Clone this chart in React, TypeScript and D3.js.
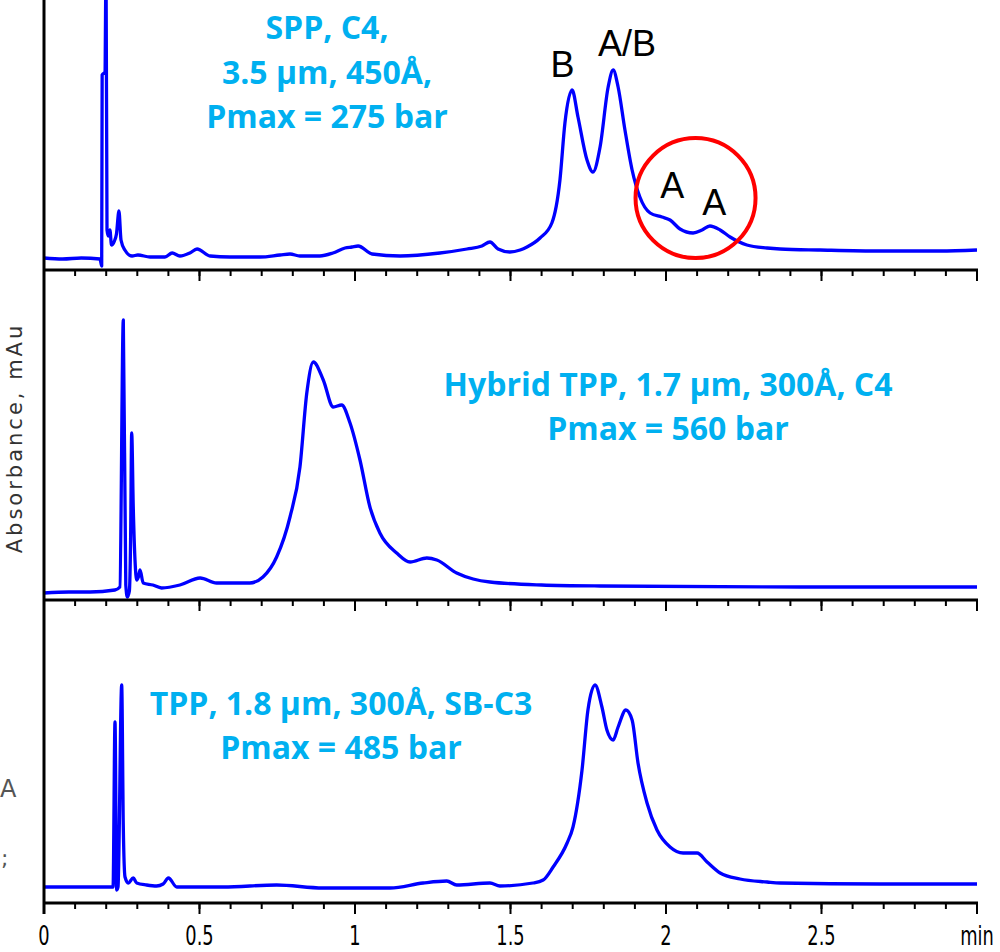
import React from 'react';
import * as d3 from 'd3';

// ---- data (time in min, absorbance in mAu) ----
const timeTicks = [0, 0.5, 1, 1.5, 2, 2.5, 3];
const timeTickLabels = ['0', '0.5', '1', '1.5', '2', '2.5', 'min'];

const sppTrace: [number, number][] = [
  [0, 11], [0.06, 10], [0.12, 11], [0.18, 10], [0.1855, 3], [0.187, 194], [0.196, 197], [0.1995, 300],
  [0.2026, 39], [0.207, 33], [0.212, 39], [0.217, 24], [0.225, 27], [0.233, 35], [0.241, 58], [0.2476, 29],
  [0.26, 19], [0.283, 13], [0.302, 14], [0.341, 12], [0.389, 12], [0.412, 16], [0.437, 13], [0.469, 16],
  [0.492, 20], [0.534, 13], [0.598, 12], [0.695, 12], [0.759, 14], [0.791, 15], [0.823, 13], [0.887, 13],
  [0.929, 16], [0.968, 21], [0.99, 22], [1.01, 23], [1.055, 15], [1.145, 13], [1.273, 16], [1.36, 20],
  [1.408, 23], [1.434, 27], [1.46, 20], [1.498, 17], [1.531, 19], [1.553, 22], [1.595, 31], [1.633, 46],
  [1.659, 89], [1.675, 146], [1.698, 179], [1.717, 152], [1.746, 109], [1.765, 97], [1.788, 122],
  [1.814, 182], [1.83, 199], [1.846, 182], [1.868, 139], [1.891, 99], [1.916, 72], [1.949, 56],
  [1.987, 52], [2.013, 49], [2.045, 40], [2.087, 36], [2.116, 39], [2.141, 43], [2.174, 39], [2.206, 32],
  [2.26, 24], [2.325, 21], [2.367, 20], [2.495, 19], [2.688, 18], [2.881, 18], [3, 19],
];

const hybridTrace: [number, number][] = [
  [0, 6], [0.08, 7], [0.148, 7], [0.228, 9], [0.244, 12], [0.255, 279], [0.263, 14], [0.268, 2],
  [0.2745, 8], [0.2785, 60], [0.282, 166], [0.287, 92], [0.2926, 39], [0.298, 19], [0.3035, 22],
  [0.3087, 29], [0.319, 16], [0.35, 14], [0.378, 11], [0.437, 14], [0.502, 21], [0.555, 16], [0.662, 16],
  [0.704, 22], [0.748, 42], [0.791, 82], [0.823, 132], [0.845, 206], [0.866, 237], [0.898, 219],
  [0.93, 192], [0.957, 194], [0.984, 176], [1.016, 139], [1.048, 92], [1.08, 66], [1.134, 46],
  [1.177, 37], [1.231, 41], [1.263, 39], [1.327, 26], [1.38, 20], [1.434, 17], [1.6, 14], [1.788, 13],
  [2.431, 12], [3, 12],
];

const tppTrace: [number, number][] = [
  [0, 15], [0.148, 15], [0.222, 15], [0.2283, 180], [0.2338, 12], [0.238, 15], [0.2498, 217], [0.255, 75],
  [0.2605, 25], [0.271, 19], [0.287, 24], [0.298, 19], [0.33, 17], [0.362, 16], [0.383, 18], [0.4, 24],
  [0.427, 15], [0.576, 15], [0.748, 17], [0.897, 14], [1.113, 14], [1.219, 19], [1.295, 21], [1.327, 17],
  [1.434, 19], [1.466, 16], [1.572, 19], [1.605, 22], [1.637, 35], [1.682, 59], [1.701, 75], [1.73, 132],
  [1.749, 192], [1.772, 217], [1.794, 195], [1.81, 172], [1.83, 162], [1.846, 175], [1.871, 192],
  [1.891, 182], [1.91, 139], [1.939, 99], [1.971, 72], [2.013, 55], [2.055, 49], [2.1, 49], [2.132, 40],
  [2.174, 29], [2.238, 23], [2.325, 20], [2.367, 19], [2.688, 18], [3, 18],
];

const sppLabel = ['SPP, C4,', '3.5 µm, 450Å,', 'Pmax = 275 bar'];
const hybridLabel = ['Hybrid TPP, 1.7 µm, 300Å, C4', 'Pmax = 560 bar'];
const tppLabel = ['TPP, 1.8 µm, 300Å, SB-C3', 'Pmax = 485 bar'];

// peak annotations for the SPP trace: [label, time, absorbance]
const peakNames = ['B', 'A/B', 'A', 'A'];
const peakTimes = [1.667, 1.875, 2.02, 2.155];
const peakHeights = [192, 213, 71, 54];

const BLUE = '#0000ff';
const LABEL_BLUE = '#00b0f0';

export default function App() {
  const x = d3.scaleLinear().domain([0, 3]).range([44, 977]);
  const panels = [
    { axisY: 269, trace: sppTrace, label: sppLabel, lx: 327, ly: [39, 84, 128] },
    { axisY: 599, trace: hybridTrace, label: hybridLabel, lx: 668, ly: [396, 440] },
    { axisY: 902, trace: tppTrace, label: tppLabel, lx: 341, ly: [715, 759] },
  ];
  const majorTicks = x.ticks(6);
  const minorTicks = x.ticks(30);

  return (
    <svg width={1000} height={952} style={{ position: 'absolute', left: 0, top: 0, background: '#fff' }}>
      <rect x={0} y={0} width={1000} height={952} fill="#fff" />
      {panels.map((p, i) => {
        const y = d3.scaleLinear().domain([0, 300]).range([p.axisY, p.axisY - 300]);
        const line = d3
          .line<[number, number]>()
          .x((d) => x(d[0]))
          .y((d) => y(d[1]))
          .curve(d3.curveMonotoneX);
        return (
          <g key={i}>
            <path d={line(p.trace) || ''} fill="none" stroke={BLUE} strokeWidth={3.3} strokeLinejoin="round" />
            <line x1={x(0)} x2={x(3) + 1} y1={p.axisY + 1} y2={p.axisY + 1} stroke="#000" strokeWidth={3} />
            {minorTicks.map((t, k) => (
              <line key={'m' + k} x1={x(t)} x2={x(t)} y1={p.axisY + 1} y2={p.axisY + 7} stroke="#000" strokeWidth={2} />
            ))}
            {majorTicks.map((t, k) => (
              <line key={'M' + k} x1={x(t)} x2={x(t)} y1={p.axisY + 1} y2={p.axisY + 12} stroke="#000" strokeWidth={2} />
            ))}
            {p.label.map((s, k) => (
              <text
                key={'l' + k}
                x={p.lx}
                y={p.ly[k]}
                textAnchor="middle"
                fontFamily="'Open Sans', sans-serif"
                fontWeight={700}
                fontSize={32}
                fill={LABEL_BLUE}
              >
                {s}
              </text>
            ))}
          </g>
        );
      })}
      {/* y axis */}
      <line x1={x(0)} x2={x(0)} y1={0} y2={914} stroke="#000" strokeWidth={3} />
      {/* x tick labels (condensed) */}
      {timeTicks.map((t, k) => (
        <text
          key={'tl' + k}
          transform={`translate(${x(t)},945) scale(0.66,1)`}
          textAnchor="middle"
          fontFamily="'DejaVu Sans', sans-serif"
          fontSize={27}
          fill="#000"
        >
          {timeTickLabels[k]}
        </text>
      ))}
      {/* y label */}
      <text
        transform="translate(22,438) rotate(-90)"
        textAnchor="middle"
        fontFamily="'DejaVu Sans', sans-serif"
        fontSize={21}
        letterSpacing={3}
        fill="#333"
      >
        Absorbance, mAu
      </text>
      {/* stray text at the left edge */}
      <text x={0} y={797} fontFamily="'DejaVu Sans', sans-serif" fontSize={24} fill="#555">A</text>
      <text x={1} y={866} fontFamily="'DejaVu Sans', sans-serif" fontSize={22} fill="#555">;</text>
      {/* peak labels */}
      {(() => {
        const y1 = d3.scaleLinear().domain([0, 300]).range([269, -31]);
        return peakNames.map((n, k) => (
          <text
            key={'p' + k}
            x={x(peakTimes[k])}
            y={y1(peakHeights[k])}
            textAnchor="middle"
            fontFamily="'Liberation Sans', Arial, sans-serif"
            fontSize={36}
            fill="#000"
          >
            {n}
          </text>
        ));
      })()}
      <circle cx={x(2.095)} cy={198} r={60} fill="none" stroke="#ff0000" strokeWidth={4} />
    </svg>
  );
}
